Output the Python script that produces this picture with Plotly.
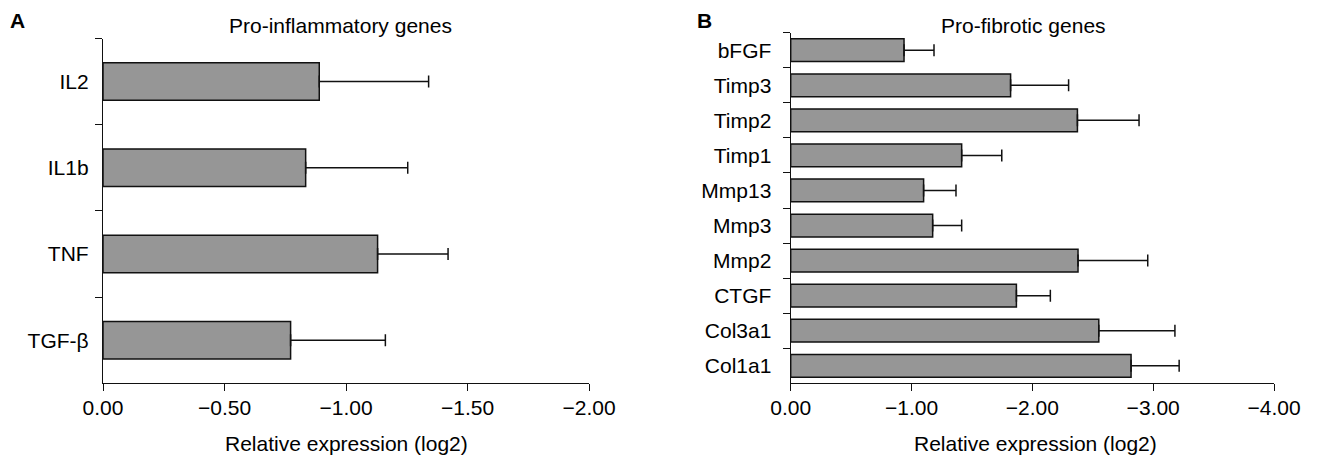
import plotly.graph_objects as go

# Panel A: pro-inflammatory genes (top to bottom)
infl_genes = ["IL2", "IL1b", "TNF", "TGF-β"]
infl_values = [-0.89, -0.834, -1.13, -0.772]
infl_errors = [0.45, 0.42, 0.29, 0.39]

# Panel B: pro-fibrotic genes (top to bottom)
fib_genes = ["bFGF", "Timp3", "Timp2", "Timp1", "Mmp13", "Mmp3", "Mmp2", "CTGF", "Col3a1", "Col1a1"]
fib_values = [-0.938, -1.82, -2.373, -1.415, -1.10, -1.175, -2.378, -1.868, -2.55, -2.817]
fib_errors = [0.248, 0.48, 0.51, 0.332, 0.268, 0.24, 0.577, 0.281, 0.63, 0.398]

ticks_a = [0, -0.5, -1.0, -1.5, -2.0]
ticks_b = [0, -1.0, -2.0, -3.0, -4.0]

FONT = "Arial, Liberation Sans, Helvetica, sans-serif"
BAR_FILL = "#969696"
INK = "#111111"
TXT = "#000000"
OFF = 8  # page body margin
W, H = 1317 - OFF, 455 - OFF

fig = go.Figure()

fig.add_trace(go.Bar(
    x=infl_values, y=infl_genes, orientation="h",
    marker=dict(color=BAR_FILL, line=dict(color=INK, width=1.5)),
    width=0.435,
    error_x=dict(type="data", symmetric=False, array=[0] * len(infl_errors),
                 arrayminus=infl_errors, color=INK, thickness=1.5, width=6),
    xaxis="x", yaxis="y", showlegend=False,
))

fig.add_trace(go.Bar(
    x=fib_values, y=fib_genes, orientation="h",
    marker=dict(color=BAR_FILL, line=dict(color=INK, width=1.5)),
    width=0.65,
    error_x=dict(type="data", symmetric=False, array=[0] * len(fib_errors),
                 arrayminus=fib_errors, color=INK, thickness=1.5, width=6),
    xaxis="x2", yaxis="y2", showlegend=False,
))

def px_x(p):
    return (p - OFF) / W

def px_y(p):
    return 1 - (p - OFF) / H

common_x = dict(
    showgrid=False, zeroline=False, showline=True, linecolor=INK, linewidth=1.3,
    ticks="outside", ticklen=7, tickwidth=1.3, tickcolor=INK, automargin=False,
    ticklabelstandoff=-2,
    tickformat=".2f", tickfont=dict(size=21, color=TXT, family=FONT),
)
common_y = dict(
    showgrid=False, zeroline=False, showline=True, linecolor=INK, linewidth=1.3,
    ticks="outside", ticklen=7, tickwidth=1.3, tickcolor=INK, tickson="boundaries",
    automargin=False,
    tickfont=dict(size=21, color=TXT, family=FONT), type="category",
)

fig.update_layout(
    width=W, height=H,
    margin=dict(l=0, r=0, t=0, b=0, autoexpand=False),
    paper_bgcolor="white", plot_bgcolor="white",
    font=dict(family=FONT, size=21, color=TXT),
    xaxis=dict(domain=[px_x(103), px_x(589)], range=[0, -2.0], tickvals=ticks_a,
               anchor="y", **common_x),
    yaxis=dict(domain=[px_y(383.3), px_y(38.5)], range=[len(infl_genes) - 0.5, -0.5],
               categoryorder="array", categoryarray=infl_genes, anchor="x",
               ticklabelstandoff=9, **common_y),
    xaxis2=dict(domain=[px_x(790.7), px_x(1274)], range=[0, -4.0], tickvals=ticks_b,
                anchor="y2", **common_x),
    yaxis2=dict(domain=[px_y(383.3), px_y(32.7)], range=[len(fib_genes) - 0.5, -0.5],
                categoryorder="array", categoryarray=fib_genes, anchor="x2",
                ticklabelstandoff=14, **common_y),
)

annots = [
    dict(text="<b>A</b>", x=px_x(17), y=px_y(21), size=21),
    dict(text="<b>B</b>", x=px_x(704.5), y=px_y(21), size=21),
    dict(text="Pro-inflammatory genes", x=px_x(340), y=px_y(25), size=21),
    dict(text="Pro-fibrotic genes", x=px_x(1023), y=px_y(25), size=21),
    dict(text="Relative expression (log2)", x=px_x(346), y=px_y(443), size=21),
    dict(text="Relative expression (log2)", x=px_x(1035), y=px_y(443), size=21),
]
for a in annots:
    fig.add_annotation(text=a["text"], x=a["x"], y=a["y"], xref="paper", yref="paper",
                       xanchor="center", yanchor="middle", showarrow=False,
                       font=dict(size=a["size"], family=FONT, color=TXT))

fig.write_html("out.html")
